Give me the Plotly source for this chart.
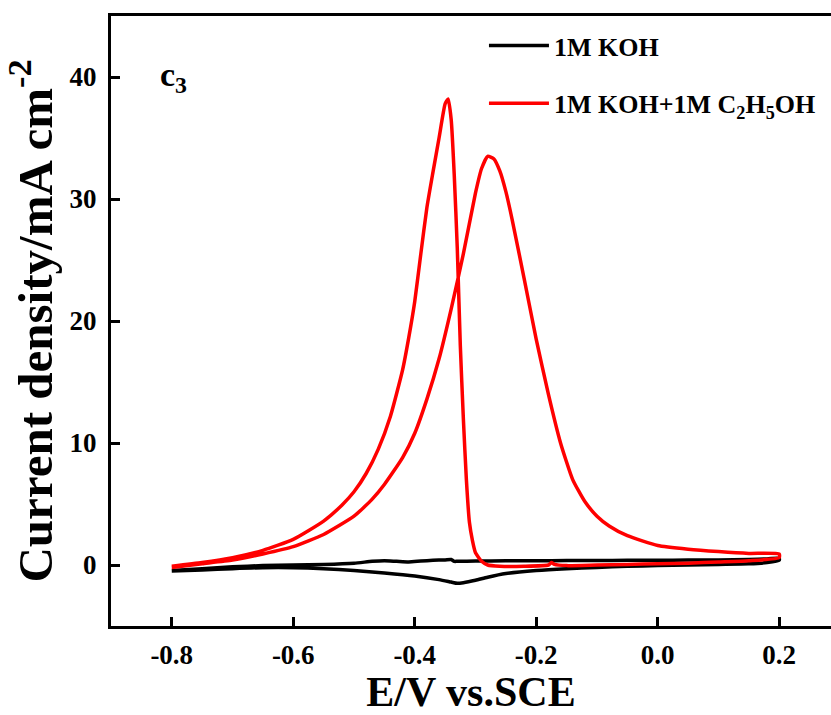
import plotly.graph_objects as go

# KOH blank (black) - forward (anodic) then reverse scan
koh_fwd_x = [-0.80, -0.75, -0.70, -0.65, -0.60, -0.55, -0.50, -0.47, -0.45, -0.43, -0.41, -0.39, -0.37, -0.35, -0.34, -0.335, -0.33, -0.30, -0.25, -0.20, -0.15, -0.10, -0.05, 0.00, 0.05, 0.10, 0.15, 0.18, 0.20]
koh_fwd_y = [-0.45, -0.30, -0.15, -0.05, 0.00, 0.05, 0.15, 0.30, 0.35, 0.30, 0.25, 0.32, 0.38, 0.42, 0.45, 0.30, 0.30, 0.32, 0.34, 0.35, 0.36, 0.37, 0.38, 0.38, 0.40, 0.42, 0.45, 0.50, 0.55]
koh_rev_x = [0.20, 0.18, 0.15, 0.10, 0.05, 0.00, -0.05, -0.10, -0.15, -0.20, -0.25, -0.28, -0.30, -0.32, -0.33, -0.34, -0.36, -0.40, -0.45, -0.50, -0.55, -0.60, -0.65, -0.70, -0.75, -0.80]
koh_rev_y = [0.40, 0.20, 0.10, 0.05, 0.00, -0.05, -0.10, -0.20, -0.30, -0.45, -0.70, -1.00, -1.25, -1.45, -1.50, -1.40, -1.20, -0.90, -0.65, -0.45, -0.30, -0.22, -0.22, -0.30, -0.40, -0.50]

# KOH + ethanol (red) - forward (anodic) then reverse scan
eth_fwd_x = [-0.80, -0.75, -0.70, -0.65, -0.60, -0.55, -0.50, -0.47, -0.45, -0.42, -0.40, -0.38, -0.36, -0.34, -0.32, -0.30, -0.29, -0.28, -0.27, -0.26, -0.25, -0.24, -0.22, -0.20, -0.18, -0.16, -0.14, -0.12, -0.10, -0.08, -0.05, 0.00, 0.05, 0.10, 0.15, 0.20]
eth_fwd_y = [-0.20, 0.10, 0.40, 0.90, 1.50, 2.50, 4.00, 5.40, 6.60, 8.80, 10.8, 13.6, 16.9, 21.0, 25.5, 30.5, 32.5, 33.5, 33.3, 32.3, 30.6, 28.4, 23.5, 18.5, 14.0, 10.0, 7.0, 5.2, 4.0, 3.2, 2.4, 1.6, 1.3, 1.1, 0.95, 0.9]
eth_rev_x = [0.20, 0.15, 0.10, 0.05, 0.00, -0.05, -0.10, -0.15, -0.17, -0.175, -0.18, -0.22, -0.26, -0.28, -0.29, -0.30, -0.305, -0.31, -0.315, -0.32, -0.325, -0.33, -0.335, -0.34, -0.345, -0.35, -0.36, -0.37, -0.38, -0.39, -0.40, -0.41, -0.42, -0.44, -0.46, -0.48, -0.50, -0.52, -0.55, -0.60, -0.65, -0.70, -0.75, -0.80]
eth_rev_y = [0.60, 0.35, 0.25, 0.15, 0.10, 0.05, 0.00, -0.05, 0.05, 0.20, 0.00, -0.10, -0.10, 0.00, 0.30, 1.00, 2.00, 3.50, 7.00, 12.0, 18.0, 26.0, 32.0, 36.5, 38.2, 37.8, 35.0, 32.2, 29.3, 25.5, 21.6, 18.6, 16.0, 12.2, 9.5, 7.5, 6.0, 4.9, 3.6, 2.1, 1.2, 0.6, 0.2, -0.10]

x_ticks = [-0.8, -0.6, -0.4, -0.2, 0.0, 0.2]
x_tick_labels = ["-0.8", "-0.6", "-0.4", "-0.2", "0.0", "0.2"]
y_ticks = [0, 10, 20, 30, 40]
y_tick_labels = ["0", "10", "20", "30", "40"]

FONT = "Liberation Serif"

fig = go.Figure()
fig.add_trace(go.Scatter(
    x=koh_fwd_x + koh_rev_x, y=koh_fwd_y + koh_rev_y, mode="lines",
    line=dict(color="black", width=3.5, shape="spline", smoothing=0.6),
    name="1M KOH", legendgroup="a"))
fig.add_trace(go.Scatter(
    x=eth_fwd_x + eth_rev_x, y=eth_fwd_y + eth_rev_y, mode="lines",
    line=dict(color="#ff0000", width=3.5, shape="spline", smoothing=0.5),
    name="1M KOH+1M C<sub>2</sub>H<sub>5</sub>OH", legendgroup="b"))

axis_common = dict(
    showline=True, linecolor="black", linewidth=3,
    ticks="inside", ticklen=9, tickwidth=3, tickcolor="black",
    showgrid=False, zeroline=False,
    tickfont=dict(family=FONT, size=27, color="black", weight="bold"),
    automargin=False,
)

fig.update_xaxes(
    range=[-0.9, 0.2852], tickvals=x_ticks, ticktext=x_tick_labels,
    mirror=True, ticklabelstandoff=3,
    title=dict(text="E/V vs.SCE", font=dict(family=FONT, size=42, color="black", weight="bold"), standoff=4),
    **axis_common)
fig.update_yaxes(
    range=[-5, 45], tickvals=y_ticks, ticktext=y_tick_labels,
    mirror=False, ticklabelstandoff=6,
    title=dict(text="Current density/mA cm<sup>-2</sup>", font=dict(family=FONT, size=49, color="black", weight="bold"), standoff=3),
    **axis_common)

fig.add_annotation(
    x=0.065, y=0.9, xref="paper", yref="paper", xanchor="left", yanchor="middle",
    text="c<sub>3</sub>", showarrow=False,
    font=dict(family=FONT, size=34, color="black", weight="bold"))

fig.update_layout(
    width=831, height=715,
    margin=dict(l=111, r=0, t=16, b=89, autoexpand=False),
    paper_bgcolor="white", plot_bgcolor="white",
    showlegend=True,
    legend=dict(x=0.518, y=0.99, xanchor="left", yanchor="top",
                bgcolor="rgba(0,0,0,0)", tracegroupgap=21, itemwidth=60,
                font=dict(family=FONT, size=26, color="black", weight="bold")),
)

fig.write_html("out.html")
